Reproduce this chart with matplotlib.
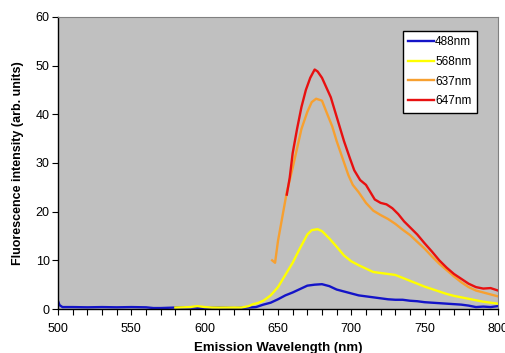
import matplotlib
matplotlib.use('Agg')
import matplotlib.pyplot as plt
from matplotlib.ticker import MultipleLocator

# Emission spectra (wavelength in nm, intensity in arb. units)
blue_wl = [500, 501, 503, 510, 520, 530, 540, 550, 560, 565, 570, 580, 590, 600, 610, 620,
           630, 635, 640, 645, 650, 655, 660, 665, 670, 675, 680, 685, 690, 695, 700, 705,
           710, 715, 720, 725, 730, 735, 740, 745, 750, 755, 760, 765, 770, 775, 780, 785,
           790, 795, 800]
blue = [1.6, 0.8, 0.4, 0.4, 0.35, 0.4, 0.35, 0.4, 0.35, 0.2, 0.2, 0.3, 0.3, 0.2, 0.3, 0.2,
        0.3, 0.4, 0.9, 1.3, 2.0, 2.8, 3.4, 4.1, 4.8, 5.0, 5.1, 4.7, 4.0, 3.6, 3.2, 2.8,
        2.6, 2.4, 2.2, 2.0, 1.9, 1.9, 1.7, 1.6, 1.4, 1.3, 1.2, 1.1, 1.0, 0.9, 0.7, 0.4,
        0.5, 0.4, 0.6]

yellow_wl = [580, 590, 595, 600, 605, 610, 620, 625, 630, 633, 636, 640, 645, 650, 655, 660,
             665, 670, 673, 677, 680, 685, 690, 695, 700, 705, 710, 715, 720, 725, 730, 735,
             740, 745, 750, 755, 760, 765, 770, 775, 780, 785, 790, 795, 800]
yellow = [0.3, 0.4, 0.6, 0.4, 0.3, 0.3, 0.3, 0.3, 0.6, 1.0, 1.2, 1.7, 2.8, 4.5, 7.0, 9.5,
          12.5, 15.3, 16.2, 16.4, 16.0, 14.5, 12.8, 11.0, 9.8, 9.0, 8.3, 7.6, 7.4, 7.2, 7.0, 6.4,
          5.8, 5.2, 4.6, 4.1, 3.6, 3.1, 2.7, 2.4, 2.1, 1.8, 1.5, 1.3, 1.1]

orange_wl = [646, 648, 650, 653, 656, 660, 663, 666, 670, 673, 676, 680, 683, 687, 690, 694,
             698, 701, 705, 710, 715, 720, 725, 730, 735, 740, 745, 750, 755, 760, 765, 770,
             775, 780, 785, 790, 795, 800]
orange = [10, 9.5, 14, 19, 24, 29, 33, 37, 40.5, 42.5, 43.2, 42.8, 40.5, 37.5, 34.5, 31,
          27.5, 25.5, 24, 21.8, 20.2, 19.3, 18.5, 17.5, 16.3, 15.2, 13.8, 12.4, 10.8, 9.3, 8.0, 6.7,
          5.5, 4.5, 3.8, 3.4, 3.0, 2.6]

red_wl = [656, 658, 660, 663, 666, 669, 672, 675, 677, 680, 683, 686, 689, 692, 695, 699,
          702, 706, 710, 713, 716, 720, 724, 728, 732, 736, 740, 745, 750, 755, 760, 765,
          770, 775, 780, 785, 790, 795, 800]
red = [23.5, 27, 32, 37, 41.5, 45, 47.5, 49.2, 48.8, 47.5, 45.5, 43.5, 40.5, 37.5, 34.5, 31,
       28.5, 26.5, 25.5, 24, 22.5, 21.8, 21.5, 20.7, 19.5, 18, 16.8, 15.3, 13.5, 11.8, 10, 8.5,
       7.2, 6.2, 5.2, 4.5, 4.2, 4.3, 3.8]

labels = ['488nm', '568nm', '637nm', '647nm']
colors = ['#1414C8', '#FFFF00', '#F7A030', '#E81010']

plt.rcParams['font.family'] = ['Liberation Sans', 'DejaVu Sans']

fig = plt.figure(figsize=(5.05, 3.53), dpi=100)
ax = fig.add_axes([0.115, 0.1246, 0.871, 0.8274])
ax.set_facecolor('#C0C0C0')

series = [(blue_wl, blue), (yellow_wl, yellow), (orange_wl, orange), (red_wl, red)]
for (wl, vals), lab, col in zip(series, labels, colors):
    ax.plot(wl, vals, color=col, lw=1.7, label=lab)

ax.set_xlim(500, 800)
ax.set_ylim(0, 60)
ax.xaxis.set_major_locator(MultipleLocator(50))
ax.xaxis.set_minor_locator(MultipleLocator(10))
ax.yaxis.set_major_locator(MultipleLocator(10))
ax.tick_params(axis='both', which='major', direction='out', length=4, width=0.8,
               labelsize=9, colors='black', pad=2)
ax.tick_params(axis='x', which='minor', direction='out', length=4, width=0.8)
ax.tick_params(axis='x', pad=6)

for side in ['top', 'right']:
    ax.spines[side].set_color('#808080')
    ax.spines[side].set_linewidth(0.8)
for side in ['left', 'bottom']:
    ax.spines[side].set_color('black')
    ax.spines[side].set_linewidth(1.0)

ax.set_xlabel('Emission Wavelength (nm)', fontsize=9.5, fontweight='bold', va='center')
ax.set_ylabel('Fluorescence intensity (arb. units)', fontsize=9, fontweight='bold', va='center')
ax.xaxis.set_label_coords(0.5, -0.134)
ax.yaxis.set_label_coords(-0.091, 0.5)

leg = ax.legend(loc='upper right', bbox_to_anchor=(0.952, 0.952), fontsize=8.5,
                frameon=True, fancybox=False, edgecolor='black', framealpha=1,
                handlelength=2.2, handletextpad=0.1, labelspacing=0.65, borderpad=0.45,
                borderaxespad=0)
leg.get_frame().set_linewidth(1.0)

fig.savefig('out.png', dpi=100, facecolor='white')
